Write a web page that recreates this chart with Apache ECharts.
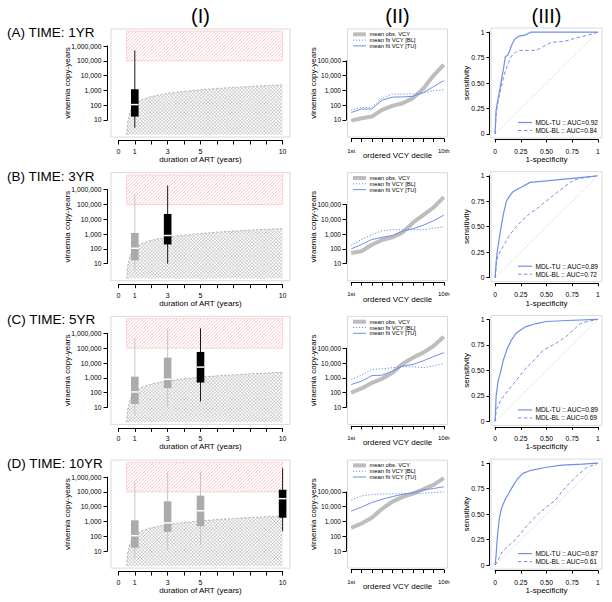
<!DOCTYPE html>
<html>
<head>
<meta charset="utf-8">
<script src="https://cdn.jsdelivr.net/npm/echarts@6/dist/echarts.min.js"></script>
<style>
html,body{margin:0;padding:0;background:#ffffff;}
#chart{width:612px;height:602px;}
</style>
</head>
<body>
<div id="chart"></div>
<script>
// ================= DATA =================
const rowLabels = ['(A) TIME: 1YR', '(B) TIME: 3YR', '(C) TIME: 5YR', '(D) TIME: 10YR'];
const colHeaders = ['(I)', '(II)', '(III)'];

// Column I : boxplots of viraemia copy-years by duration of ART
const artLabelledTicks = [0, 1, 3, 5, 10];
const boxYears = [1, 3, 5, 10];
const boxLow   = [3, 10, 25, 220];
const boxQ1    = [17, 200, 480, 1800];
const boxMed   = [110, 800, 5300, 35000];
const boxQ3    = [1200, 23000, 56000, 140000];
const boxHigh  = [500000, 1900000, 2200000, 4000000];
const highZone = [0.5, 100000, 10, 10000000];           // x0, y0, x1, y1
const lowZoneX = [0.5, 0.55, 0.6, 0.7, 0.8, 1, 1.25, 1.5, 2, 2.5, 3, 4, 5, 6, 7, 8, 9, 10];
const lowZoneY = [1, 5, 12, 30, 55, 110, 180, 250, 380, 500, 620, 850, 1100, 1350, 1600, 1850, 2100, 2350];
const lowZoneFloor = 1;

// Column II : mean VCY per ordered decile
const deciles = [1, 2, 3, 4, 5, 6, 7, 8, 9, 10];
const obs1yr  = [9, 13, 17, 48, 90, 135, 300, 1300, 10000, 56000];
const bl1yr   = [46, 72, 72, 300, 560, 560, 580, 700, 950, 1100];
const tu1yr   = [32, 55, 55, 220, 350, 360, 400, 700, 1800, 4500];
const obs3yr  = [53, 69, 190, 400, 600, 1300, 5900, 19000, 63000, 320000];
const bl3yr   = [170, 440, 900, 1700, 2000, 2000, 2000, 2000, 2500, 3200];
const tu3yr   = [100, 200, 430, 600, 800, 1600, 2300, 4000, 8000, 19000];
const obs5yr  = [100, 190, 450, 850, 2200, 9000, 23000, 50000, 140000, 600000];
const bl5yr   = [780, 1500, 3700, 4000, 4800, 5600, 5600, 4800, 6300, 9000];
const tu5yr   = [350, 590, 1400, 1500, 2800, 6300, 8000, 14000, 27000, 50000];
const obs10yr = [370, 730, 1800, 7200, 22000, 46000, 77000, 150000, 300000, 850000];
const bl10yr  = [28000, 54000, 66000, 73000, 75000, 75000, 76000, 80000, 90000, 100000];
const tu10yr  = [5000, 9500, 19000, 32000, 48000, 69000, 90000, 137000, 170000, 220000];
const seriesNamesII = ['mean obs. VCY', 'mean fit VCY [BL]', 'mean fit VCY [TU]'];

// Column III : ROC curves [1-specificity, sensitivity]
const aucTU = [0.92, 0.89, 0.89, 0.87];
const aucBL = [0.84, 0.72, 0.69, 0.61];
const rocTU1yr = [[0,0],[0.01,0.24],[0.026,0.33],[0.05,0.46],[0.065,0.55],[0.08,0.63],[0.1,0.76],[0.12,0.77],[0.14,0.81],[0.16,0.87],[0.19,0.93],[0.23,0.96],[0.29,0.97],[0.35,1],[1,1]];
const rocBL1yr = [[0,0],[0.01,0.2],[0.03,0.32],[0.05,0.42],[0.08,0.55],[0.1,0.62],[0.13,0.7],[0.15,0.75],[0.18,0.79],[0.2,0.8],[0.23,0.82],[0.4,0.82],[0.47,0.86],[0.55,0.9],[0.68,0.91],[0.78,0.94],[0.9,0.97],[1,1]];
const rocTU3yr = [[0,0],[0.01,0.15],[0.02,0.25],[0.05,0.45],[0.08,0.62],[0.11,0.75],[0.14,0.8],[0.17,0.84],[0.24,0.88],[0.34,0.935],[0.5,0.95],[0.7,0.97],[0.9,0.99],[1,1]];
const rocBL3yr = [[0,0],[0.016,0.18],[0.04,0.24],[0.08,0.31],[0.13,0.4],[0.18,0.47],[0.26,0.56],[0.34,0.63],[0.4,0.67],[0.47,0.73],[0.57,0.81],[0.67,0.89],[0.77,0.96],[0.86,0.98],[1,1]];
const rocTU5yr = [[0,0],[0.01,0.25],[0.03,0.4],[0.05,0.47],[0.08,0.6],[0.12,0.72],[0.16,0.8],[0.2,0.86],[0.25,0.9],[0.3,0.93],[0.4,0.96],[0.5,0.98],[0.7,0.99],[1,1]];
const rocBL5yr = [[0,0],[0.01,0.1],[0.05,0.2],[0.1,0.27],[0.18,0.37],[0.28,0.5],[0.35,0.57],[0.47,0.7],[0.6,0.77],[0.7,0.84],[0.83,0.96],[0.9,0.98],[1,1]];
const rocTU10yr = [[0,0],[0.01,0.1],[0.02,0.25],[0.04,0.45],[0.06,0.55],[0.1,0.65],[0.13,0.7],[0.17,0.77],[0.22,0.85],[0.27,0.9],[0.35,0.93],[0.5,0.96],[0.65,0.98],[0.85,0.99],[1,1]];
const rocBL10yr = [[0,0],[0.03,0.05],[0.07,0.13],[0.12,0.18],[0.2,0.25],[0.28,0.35],[0.35,0.43],[0.42,0.5],[0.5,0.57],[0.58,0.63],[0.65,0.72],[0.72,0.8],[0.8,0.88],[0.88,0.95],[1,1]];
const rocDiagonal = [[0,0],[1,1]];

// ================= ASSEMBLY =================
const obsRows = [obs1yr, obs3yr, obs5yr, obs10yr];
const blRows = [bl1yr, bl3yr, bl5yr, bl10yr];
const tuRows = [tu1yr, tu3yr, tu5yr, tu10yr];
const rocTURows = [rocTU1yr, rocTU3yr, rocTU5yr, rocTU10yr];
const rocBLRows = [rocBL1yr, rocBL3yr, rocBL5yr, rocBL10yr];

const FONT = '"Liberation Sans", Arial, Helvetica, sans-serif';
const BLUE = '#6e8ee9';
const OBS_GRAY = '#bdbdbd';
const ROW_DY = 143.7;
const LOG_LO = Math.pow(10, -0.15), LOG_HI = Math.pow(10, 7.15);

const COLS = [
  {l: 111, r: 290, t: 29, b: 137, xr: [-0.45, 10.45], yType: 'log', yr: [LOG_LO, LOG_HI],
   xOff: 3.5, yOff: 3.5, tick: 4, xt: [0, 10, 1], yt: [10, 1000000], xFont: 7, yFont: 6.8, xMargin: 7.5, yMargin: 6,
   xName: 'duration of ART (years)', xGap: 18.5, yName: 'viraemia copy-years', yGap: 40},
  {l: 347.5, r: 447.5, t: 29, b: 137, xr: [0.64, 10.36], yType: 'log', yr: [LOG_LO, LOG_HI],
   xOff: 1.5, yOff: 1.5, tick: 3.5, xt: [1, 10, 1], yt: [10, 100000], xFont: 6, yFont: 6.5, xMargin: 9, yMargin: 5,
   xName: 'ordered VCY decile', xGap: 14.5, yName: 'viraemia copy-years', yGap: 30.5},
  {l: 491, r: 602, t: 28, b: 138, xr: [-0.04, 1.04], yType: 'value', yr: [-0.04, 1.04],
   xOff: 1.5, yOff: 1.5, tick: 3, xt: [0, 1, 0.25], yt: [0, 1, 0.25], xFont: 6.8, yFont: 6.8, xMargin: 8, yMargin: 5,
   xName: '1-specificity', xGap: 17.5, yName: 'sensitivity', yGap: 21}
];

function xPix(C, v) { return C.l + (v - C.xr[0]) / (C.xr[1] - C.xr[0]) * (C.r - C.l); }
function yPix(C, v) {
  let a = C.yr[0], b = C.yr[1], val = v;
  if (C.yType === 'log') { a = Math.log10(a); b = Math.log10(b); val = Math.log10(v); }
  return C.t + (b - val) / (b - a) * (C.b - C.t);
}

// hatch line elements covering a pixel bounding box (clipped by the shape)
function hatch(minX, minY, maxX, maxY, step, dir, style) {
  const out = [];
  if (dir > 0) { // '/' lines : x + y = k
    for (let k = minX + minY; k <= maxX + maxY; k += step) {
      out.push({type: 'line', shape: {x1: k - maxY, y1: maxY, x2: k - minY, y2: minY}, style: style});
    }
  } else {       // '\' lines : y - x = k
    for (let k = minY - maxX; k <= maxY - minX; k += step) {
      out.push({type: 'line', shape: {x1: minX, y1: minX + k, x2: maxX, y2: maxX + k}, style: style});
    }
  }
  return out;
}
const RED_HATCH = {stroke: '#f3a3a3', lineWidth: 0.6};
const GRAY_HATCH = {stroke: '#a2a2a2', lineWidth: 0.5};

function fmtComma(v) { return Math.round(v).toLocaleString('en-US'); }
function fmtX(c, v) {
  if (c === 0) return artLabelledTicks.indexOf(Math.round(v)) >= 0 && Math.abs(v - Math.round(v)) < 1e-6 ? String(Math.round(v)) : '';
  if (c === 1) return Math.abs(v - 1) < 1e-6 ? '1st' : (Math.abs(v - 10) < 1e-6 ? '10th' : '');
  return (Math.abs(v) < 1e-6) ? '0' : (Math.abs(v - 1) < 1e-6 ? '1' : v.toFixed(2));
}
function fmtY(c, v) {
  if (c === 2) return (Math.abs(v) < 1e-6) ? '0' : (Math.abs(v - 1) < 1e-6 ? '1' : v.toFixed(2));
  return fmtComma(v);
}

const grids = [], xAxes = [], yAxes = [], series = [], graphics = [];
const hiddenAxis = (gi) => ({gridIndex: gi, type: 'value', show: false, min: 0, max: 1});
const textBase = {fill: '#000', fontFamily: FONT};

for (let r = 0; r < 4; r++) {
  const oy = r * ROW_DY;
  for (let c = 0; c < 3; c++) {
    const C = COLS[c];
    const p = r * 3 + c;
    const gF = 3 * p, gX = 3 * p + 1, gY = 3 * p + 2;
    grids.push({left: C.l, top: C.t + oy, width: C.r - C.l, height: C.b - C.t, show: true,
      borderColor: '#d9d9d9', borderWidth: 1, backgroundColor: 'transparent', containLabel: false, outerBoundsMode: 'none'});
    const x0 = xPix(C, C.xt[0]), x1 = xPix(C, C.xt[1]);
    grids.push({left: x0, width: x1 - x0, top: C.b + oy + C.xOff - 1, height: 1, containLabel: false, outerBoundsMode: 'none'});
    const y0 = yPix(C, C.yt[1]), y1 = yPix(C, C.yt[0]);
    grids.push({left: C.l - C.yOff, width: 1, top: y0 + oy, height: y1 - y0, containLabel: false, outerBoundsMode: 'none'});

    const hid = {axisLine: {show: false}, axisTick: {show: false}, axisLabel: {show: false}, splitLine: {show: false}};
    const nameStyle = {fontSize: 8, color: '#000', fontFamily: FONT};
    xAxes.push(Object.assign({gridIndex: gF, type: 'value', min: C.xr[0], max: C.xr[1], name: C.xName,
      nameLocation: 'middle', nameGap: C.xGap, nameTextStyle: nameStyle}, hid));
    const frameY = {gridIndex: gF, type: C.yType, min: C.yr[0], max: C.yr[1], name: C.yName,
      nameLocation: 'middle', nameRotate: 90, nameGap: C.yGap, nameTextStyle: nameStyle};
    if (C.yType === 'log') frameY.logBase = 10;
    yAxes.push(Object.assign(frameY, hid));

    const lineSt = {color: '#000', width: 1};
    xAxes.push({gridIndex: gX, type: 'value', min: C.xt[0], max: C.xt[1], interval: C.xt[2], position: 'bottom',
      axisLine: {show: true, lineStyle: lineSt}, axisTick: {show: true, length: C.tick, lineStyle: lineSt},
      splitLine: {show: false},
      axisLabel: {show: true, interval: 0, fontSize: C.xFont, color: '#000', fontFamily: FONT, margin: C.xMargin,
        showMinLabel: true, showMaxLabel: true, hideOverlap: false, formatter: (v) => fmtX(c, v)}});
    xAxes.push(hiddenAxis(gY));
    yAxes.push(hiddenAxis(gX));
    const tickY = {gridIndex: gY, type: C.yType, min: C.yt[0], max: C.yt[1], position: 'left',
      axisLine: {show: true, lineStyle: lineSt}, axisTick: {show: true, length: C.tick, lineStyle: lineSt},
      splitLine: {show: false},
      axisLabel: {show: true, interval: 0, fontSize: C.yFont, color: '#000', fontFamily: FONT, margin: C.yMargin,
        showMinLabel: true, showMaxLabel: true, hideOverlap: false, formatter: (v) => fmtY(c, v)}};
    if (C.yType === 'log') tickY.logBase = 10; else tickY.interval = C.yt[2];
    yAxes.push(tickY);

    const idx = {xAxisIndex: gF, yAxisIndex: gF};
    if (c === 0) {
      series.push(Object.assign({type: 'custom', name: 'high zone', z: 1, silent: true, data: [highZone],
        encode: {x: [0, 2], y: [1, 3]},
        renderItem: (params, api) => {
          const a = api.coord([api.value(0), api.value(1)]);
          const b = api.coord([api.value(2), api.value(3)]);
          const rectShape = {x: a[0], y: b[1], width: b[0] - a[0], height: a[1] - b[1]};
          return {type: 'group', children: [
            {type: 'group', clipPath: {type: 'rect', shape: rectShape},
              children: hatch(a[0], b[1], b[0], a[1], 3.4, 1, RED_HATCH)},
            {type: 'rect', shape: rectShape, style: {fill: null, stroke: 'rgba(243,163,163,0.55)', lineWidth: 0.8}}
          ]};
        }}, idx));
      series.push(Object.assign({type: 'custom', name: 'low zone', z: 1, silent: true,
        data: [[lowZoneX[0], lowZoneY[0]]],
        renderItem: (params, api) => {
          const pts = lowZoneX.map((x, i) => api.coord([x, lowZoneY[i]]));
          const fr = api.coord([lowZoneX[lowZoneX.length - 1], lowZoneFloor]);
          const fl = api.coord([lowZoneX[0], lowZoneFloor]);
          const poly = pts.concat([fr, fl]);
          let mnX = Infinity, mnY = Infinity, mxX = -Infinity, mxY = -Infinity;
          poly.forEach((q) => { mnX = Math.min(mnX, q[0]); mxX = Math.max(mxX, q[0]); mnY = Math.min(mnY, q[1]); mxY = Math.max(mxY, q[1]); });
          return {type: 'group', children: [
            {type: 'group', clipPath: {type: 'polygon', shape: {points: poly}},
              children: hatch(mnX, mnY, mxX, mxY, 3.4, 1, GRAY_HATCH).concat(hatch(mnX, mnY, mxX, mxY, 3.4, -1, GRAY_HATCH))},
            {type: 'polyline', shape: {points: pts}, style: {stroke: '#9c9c9c', lineWidth: 0.8, lineDash: [2, 2], fill: null}}
          ]};
        }}, idx));
      const boxData = boxYears.slice(0, r + 1).map((x, i) =>
        [x, boxLow[i], boxQ1[i], boxMed[i], boxQ3[i], boxHigh[i], i === r ? 1 : 0]);
      series.push(Object.assign({type: 'custom', name: 'VCY boxes', z: 3, silent: true, data: boxData,
        encode: {x: 0, y: [1, 2, 3, 4, 5]},
        renderItem: (params, api) => {
          const x = api.value(0), cur = api.value(6) === 1;
          const lo = api.coord([x, api.value(1)]), q1 = api.coord([x, api.value(2)]);
          const md = api.coord([x, api.value(3)]), q3 = api.coord([x, api.value(4)]);
          const hi = api.coord([x, api.value(5)]);
          const hw = 3.8;
          return {type: 'group', children: [
            {type: 'line', shape: {x1: lo[0], y1: lo[1], x2: hi[0], y2: hi[1]},
              style: {stroke: cur ? '#1a1a1a' : '#c6c6c6', lineWidth: 1}},
            {type: 'rect', shape: {x: q3[0] - hw, y: q3[1], width: 2 * hw, height: q1[1] - q3[1]},
              style: {fill: cur ? '#000000' : '#ababab'}},
            {type: 'line', shape: {x1: md[0] - hw, y1: md[1], x2: md[0] + hw, y2: md[1]},
              style: {stroke: '#ffffff', lineWidth: 1.5}}
          ]};
        }}, idx));
    } else if (c === 1) {
      const mk = (arr) => deciles.map((d, i) => [d, arr[i]]);
      series.push(Object.assign({type: 'line', name: seriesNamesII[0], symbol: 'none', z: 2, silent: true,
        data: mk(obsRows[r]), lineStyle: {color: OBS_GRAY, width: 4}, itemStyle: {color: OBS_GRAY}}, idx));
      series.push(Object.assign({type: 'line', name: seriesNamesII[1], symbol: 'none', z: 3, silent: true,
        data: mk(blRows[r]), lineStyle: {color: BLUE, width: 1, type: [1.2, 1.8]}, itemStyle: {color: BLUE}}, idx));
      series.push(Object.assign({type: 'line', name: seriesNamesII[2], symbol: 'none', z: 4, silent: true,
        data: mk(tuRows[r]), lineStyle: {color: BLUE, width: 1}, itemStyle: {color: BLUE}}, idx));
      const lx1 = C.l + 5.5, lx2 = lx1 + 13, ly0 = C.t + oy + 5.3, ldy = 5.8;
      const legSt = [{stroke: OBS_GRAY, lineWidth: 4}, {stroke: BLUE, lineWidth: 1, lineDash: [1.2, 1.8]}, {stroke: BLUE, lineWidth: 1}];
      seriesNamesII.forEach((nm, i) => {
        const y = ly0 + i * ldy;
        graphics.push({type: 'line', silent: true, shape: {x1: lx1, y1: y, x2: lx2, y2: y}, style: legSt[i]});
        graphics.push({type: 'text', silent: true, x: lx2 + 3.5, y: y,
          style: Object.assign({text: nm, fontSize: 5.8, textAlign: 'left', textVerticalAlign: 'middle', align: 'left', verticalAlign: 'middle'}, textBase)});
      });
    } else {
      const nmTU = 'MDL-TU :: AUC=' + aucTU[r].toFixed(2);
      const nmBL = 'MDL-BL :: AUC=' + aucBL[r].toFixed(2);
      series.push(Object.assign({type: 'line', name: 'diagonal', symbol: 'none', z: 2, silent: true,
        data: rocDiagonal, lineStyle: {color: '#c8c8c8', width: 1, type: [1.2, 2]}}, idx));
      series.push(Object.assign({type: 'line', name: nmBL, symbol: 'none', z: 3, silent: true,
        data: rocBLRows[r], lineStyle: {color: BLUE, width: 1, type: [3.5, 2.5]}}, idx));
      series.push(Object.assign({type: 'line', name: nmTU, symbol: 'none', z: 4, silent: true,
        data: rocTURows[r], lineStyle: {color: BLUE, width: 1.2}}, idx));
      const lx1 = C.l + 27, lx2 = lx1 + 14, ly0 = C.t + oy + 94.5, ldy = 8;
      const legs = [[nmTU, {stroke: BLUE, lineWidth: 1.2}], [nmBL, {stroke: BLUE, lineWidth: 1, lineDash: [3.5, 2.5]}]];
      legs.forEach((lg, i) => {
        const y = ly0 + i * ldy;
        graphics.push({type: 'line', silent: true, shape: {x1: lx1, y1: y, x2: lx2, y2: y}, style: lg[1]});
        graphics.push({type: 'text', silent: true, x: lx2 + 3.5, y: y,
          style: Object.assign({text: lg[0], fontSize: 6.6, textAlign: 'left', textVerticalAlign: 'middle', align: 'left', verticalAlign: 'middle'}, textBase)});
      });
    }
  }
  graphics.push({type: 'text', silent: true, x: 7, y: 32.3 + oy,
    style: Object.assign({text: rowLabels[r], fontSize: 13.5, textAlign: 'left', textVerticalAlign: 'middle', align: 'left', verticalAlign: 'middle'}, textBase)});
}
colHeaders.forEach((h, c) => {
  const C = COLS[c];
  graphics.push({type: 'text', silent: true, x: (C.l + C.r) / 2, y: 16,
    style: Object.assign({text: h, fontSize: 20, textAlign: 'center', textVerticalAlign: 'middle', align: 'center', verticalAlign: 'middle'}, textBase)});
});

const chart = echarts.init(document.getElementById('chart'), null, {renderer: 'svg', width: 612, height: 602});
chart.setOption({
  animation: false,
  backgroundColor: '#ffffff',
  textStyle: {fontFamily: FONT},
  grid: grids,
  xAxis: xAxes,
  yAxis: yAxes,
  series: series,
  graphic: {elements: graphics}
});
</script>
</body>
</html>
